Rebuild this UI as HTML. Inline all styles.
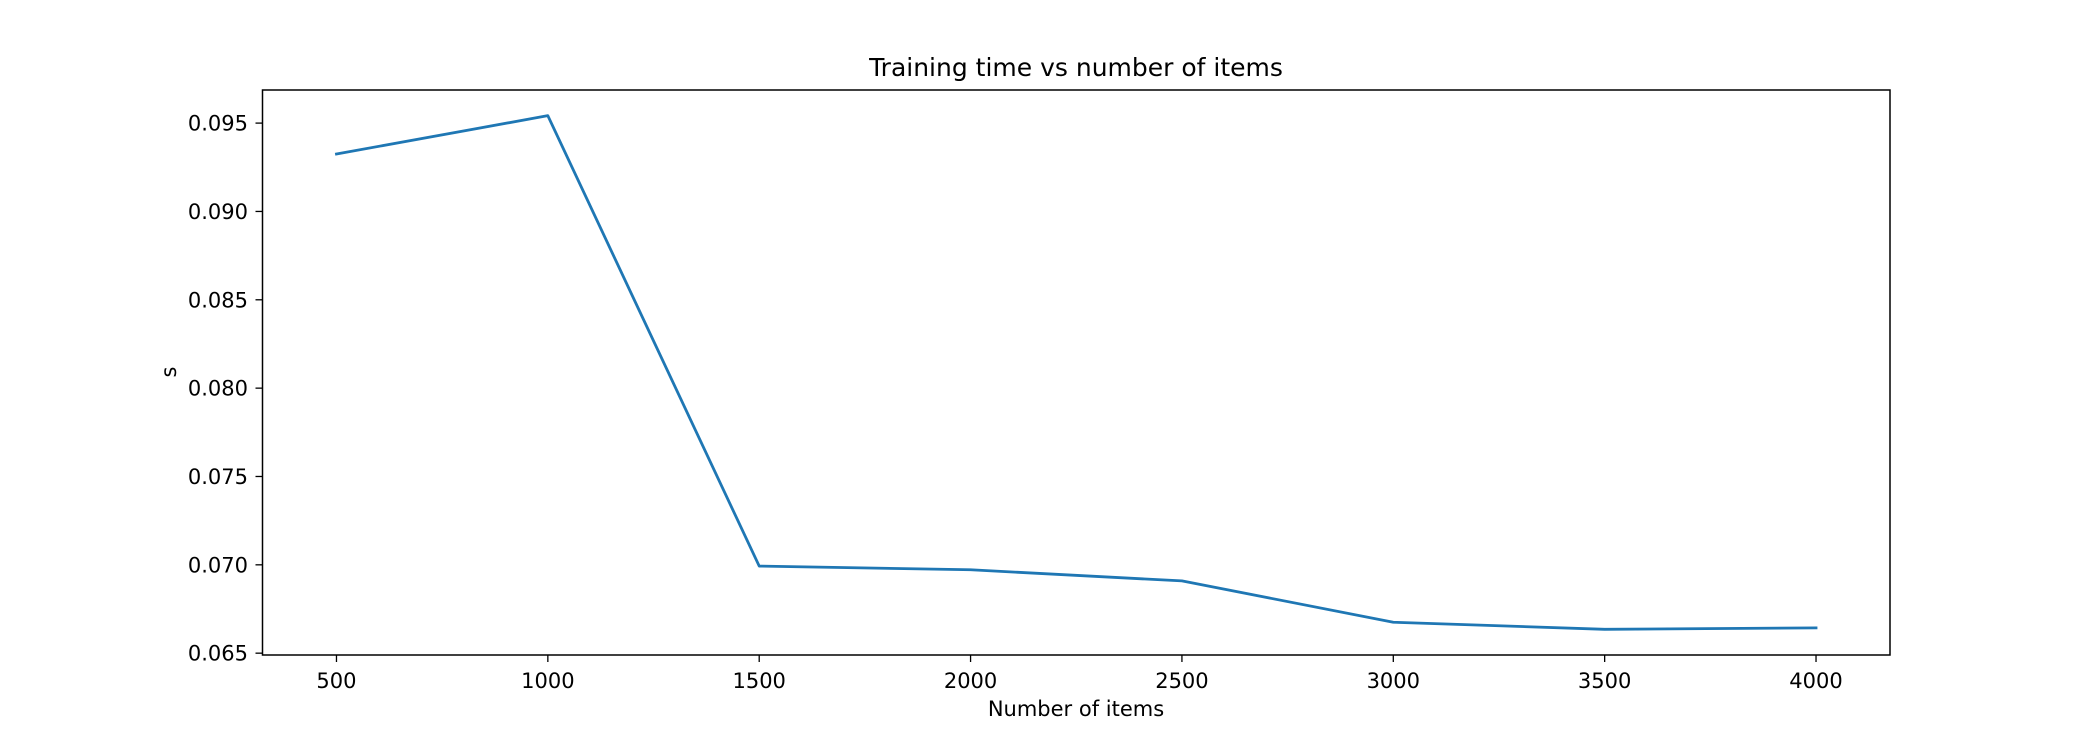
<!DOCTYPE html>
<html><head><meta charset="utf-8"><style>
html,body{margin:0;padding:0;background:#fff;}
svg{display:block;font-family:"DejaVu Sans","Liberation Sans",sans-serif;}
</style></head><body>
<svg id="chart" width="2100" height="750" viewBox="0 0 2100 750" xmlns="http://www.w3.org/2000/svg">
<rect width="2100" height="750" fill="#fff"/>
<text x="1076" y="76" font-size="25" text-anchor="middle" fill="#000">Training time vs number of items</text>
<g id="plot"></g>
<text x="1076" y="716" font-size="21" text-anchor="middle" fill="#000">Number of items</text>
<text x="0" y="0" font-size="21" text-anchor="middle" fill="#000" transform="translate(176,372) rotate(-90)">s</text>
</svg>
<script>
const xValues = [500, 1000, 1500, 2000, 2500, 3000, 3500, 4000];
const timeValues = [0.09325, 0.09542, 0.06993, 0.06972, 0.06909, 0.06675, 0.06635, 0.06643];
const xTicks = [500, 1000, 1500, 2000, 2500, 3000, 3500, 4000];
const yTicks = [0.065, 0.070, 0.075, 0.080, 0.085, 0.090, 0.095];

const NS = "http://www.w3.org/2000/svg";
const L = 262.5, R = 1890, T = 90, B = 655;
const xMin0 = Math.min(...xValues), xMax0 = Math.max(...xValues);
const xPad = (xMax0 - xMin0) * 0.05;
const xMin = xMin0 - xPad, xMax = xMax0 + xPad;
const yMin0 = Math.min(...timeValues), yMax0 = Math.max(...timeValues);
const yPad = (yMax0 - yMin0) * 0.05;
const yMin = yMin0 - yPad, yMax = yMax0 + yPad;
function sx(v){ return L + (v - xMin) / (xMax - xMin) * (R - L); }
function sy(v){ return B - (v - yMin) / (yMax - yMin) * (B - T); }
const g = document.getElementById('plot');
function mk(tag, attrs){ const e = document.createElementNS(NS, tag); for (const k in attrs) e.setAttribute(k, attrs[k]); g.appendChild(e); return e; }

xTicks.forEach(v => {
  const x = sx(v);
  const t = mk('line', {x1:x, x2:x, y1:B, y2:B+7, stroke:'#000', 'stroke-width':1.3});
  
  
  const lb = mk('text', {x:x, y:B+33, 'font-size':21, 'text-anchor':'middle', fill:'#000'});
  lb.textContent = String(v);
  
  
});
yTicks.forEach(v => {
  const y = sy(v);
  const t = mk('line', {x1:L-7, x2:L, y1:y, y2:y, stroke:'#000', 'stroke-width':1.3});
  
  
  const lb = mk('text', {x:248, y:y+7.5, 'font-size':21, 'text-anchor':'end', fill:'#000'});
  lb.textContent = v.toFixed(3);
  
  
});

const pts = xValues.map((x, i) => sx(x).toFixed(2) + ',' + sy(timeValues[i]).toFixed(2)).join(' ');
const line = mk('polyline', {points:pts, fill:'none', stroke:'#1f77b4', 'stroke-width':2.8, 'stroke-linejoin':'round', 'stroke-linecap':'square'});



const frame = mk('rect', {x:L, y:T, width:R-L, height:B-T, fill:'none', stroke:'#000', 'stroke-width':1.5});


</script>
</body></html>
